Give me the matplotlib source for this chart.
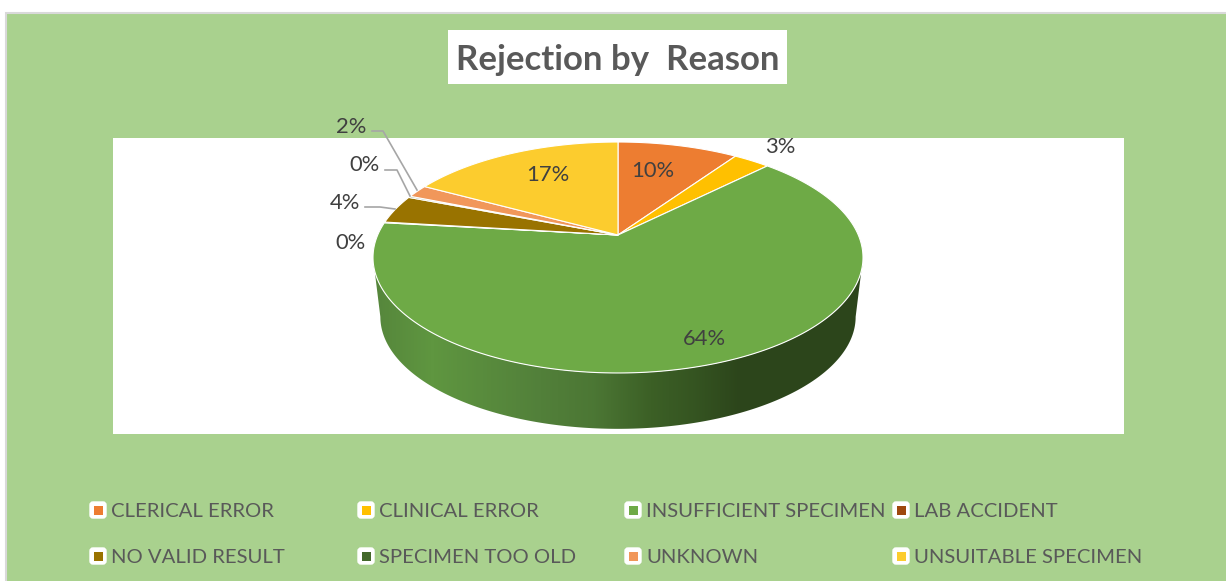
import numpy as np
import matplotlib
matplotlib.use("Agg")
import matplotlib.pyplot as plt
from matplotlib.patches import Polygon, Rectangle, FancyBboxPatch
from matplotlib.colors import LinearSegmentedColormap

plt.rcParams['font.family'] = ['Lato', 'DejaVu Sans']

# data
reasons = ["CLERICAL ERROR", "CLINICAL ERROR", "INSUFFICIENT SPECIMEN", "LAB ACCIDENT",
           "NO VALID RESULT", "SPECIMEN TOO OLD", "UNKNOWN", "UNSUITABLE SPECIMEN"]
values = [9.6, 2.9, 64.3, 0.1, 4.0, 0.2, 1.8, 17.1]
colors = ["#ED7D31", "#FFC000", "#6EAA46", "#9E480E", "#997300", "#43682B", "#F1975A", "#FCCC2E"]
title = "Rejection by  Reason"

# label and legend places in pixels
label_xy = [(653, 171), (780, 147), (704, 339), (351, 243), (345, 203), (365, 165), (351, 127), (548, 175)]
legend_x = [98, 366, 633, 901]
legend_y = [510, 556]

text_col = "#595959"

fig = plt.figure(figsize=(12.26, 5.81), dpi=100, facecolor="white")
ax = fig.add_axes([0, 0, 1, 1])

ax.add_patch(Rectangle((6, 13), 1230, 580, fc="#A9D18E", ec="#D9D9D9", lw=1.5, zorder=0))
ax.add_patch(Rectangle((113, 138), 1011, 296, fc="white", ec="none", zorder=1))
ax.add_patch(Rectangle((448, 30), 339, 54, fc="white", ec="none", zorder=1))
ax.text(618, 60, title, ha="center", va="center", fontsize=25, fontweight="bold", color=text_col, zorder=5)

# pie seen in perspective, apex is not the middle of the ellipse
cx, cy = 618, 235
a, b, k = 240.3, 111.1, 0.1948
depth = 60
shrink = 0.97


def rim(frac):
    t = 2 * np.pi * np.asarray(frac)
    u, v = np.sin(t), np.cos(t)
    d = 1 + k * v
    return cx + a * u / d, cy - b * v / d


# side wall with gradient, bottom rim a bit smaller than the top one
# starts where the rim is widest so the sides run straight down
widest = np.arccos(-k) / (2 * np.pi)
xs, ys = rim(np.linspace(widest, 1 - widest, 300))
low_x = cx + (xs - cx) * shrink
low_y = cy + (ys - cy) * shrink + depth
wall = np.column_stack([np.r_[xs, low_x[::-1]], np.r_[ys, low_y[::-1]]])
wall_patch = Polygon(wall, closed=True, fc="none", ec="none")
ax.add_patch(wall_patch)
cmap = LinearSegmentedColormap.from_list(
    "wall", [(0, "#2C451B"), (0.45, "#3C6026"), (0.8, "#52803A"), (1, "#5F9640")])
xg = np.linspace(0, 1, 490)
shade = np.interp(xg, [0, 0.12, 0.45, 0.66, 0.75, 1], [0.85, 1, 0.7, 0.25, 0, 0])
im = ax.imshow(shade[None, :], extent=(373, 863, 440, 230), aspect="auto", cmap=cmap, vmin=0, vmax=1, zorder=2)
im.set_clip_path(wall_patch)

ax.set_xlim(0, 1226)
ax.set_ylim(581, 0)
ax.axis("off")

# top face
edges = np.r_[0, np.cumsum(values)] / sum(values)
for i, col in enumerate(colors):
    n = max(int((edges[i + 1] - edges[i]) * 500), 2)
    px, py = rim(np.linspace(edges[i], edges[i + 1], n))
    pts = np.column_stack([np.r_[cx, px], np.r_[cy, py]])
    ax.add_patch(Polygon(pts, closed=True, fc=col, ec="white", lw=0.8, joinstyle="round", zorder=3))

# percent labels
for val, (lx, ly) in zip(values, label_xy):
    ax.text(lx, ly, f"{val:.0f}%", ha="center", va="center", fontsize=15.8, color="#404040", zorder=6)

# leader lines
ax.plot([372, 383, 417], [131, 131, 190], color="#A6A6A6", lw=1.2, zorder=4)
ax.plot([385, 397, 410], [170, 170, 196], color="#A6A6A6", lw=1.2, zorder=4)
ax.plot([365, 380, 395], [207, 207, 209], color="#A6A6A6", lw=1.2, zorder=4)

# legend
for i, (name, col) in enumerate(zip(reasons, colors)):
    x = legend_x[i % 4]
    y = legend_y[i // 4]
    ax.add_patch(FancyBboxPatch((x - 8, y - 8), 16, 16, boxstyle="round,pad=0,rounding_size=3",
                                fc="white", ec="white", lw=1, zorder=3))
    ax.add_patch(Rectangle((x - 4.5, y - 4.5), 9, 9, fc=col, ec="none", zorder=4))
    ax.text(x + 13, y + 1.5, name, ha="left", va="center", fontsize=14.6, color=text_col, zorder=5)

fig.savefig("out.png", dpi=100)
